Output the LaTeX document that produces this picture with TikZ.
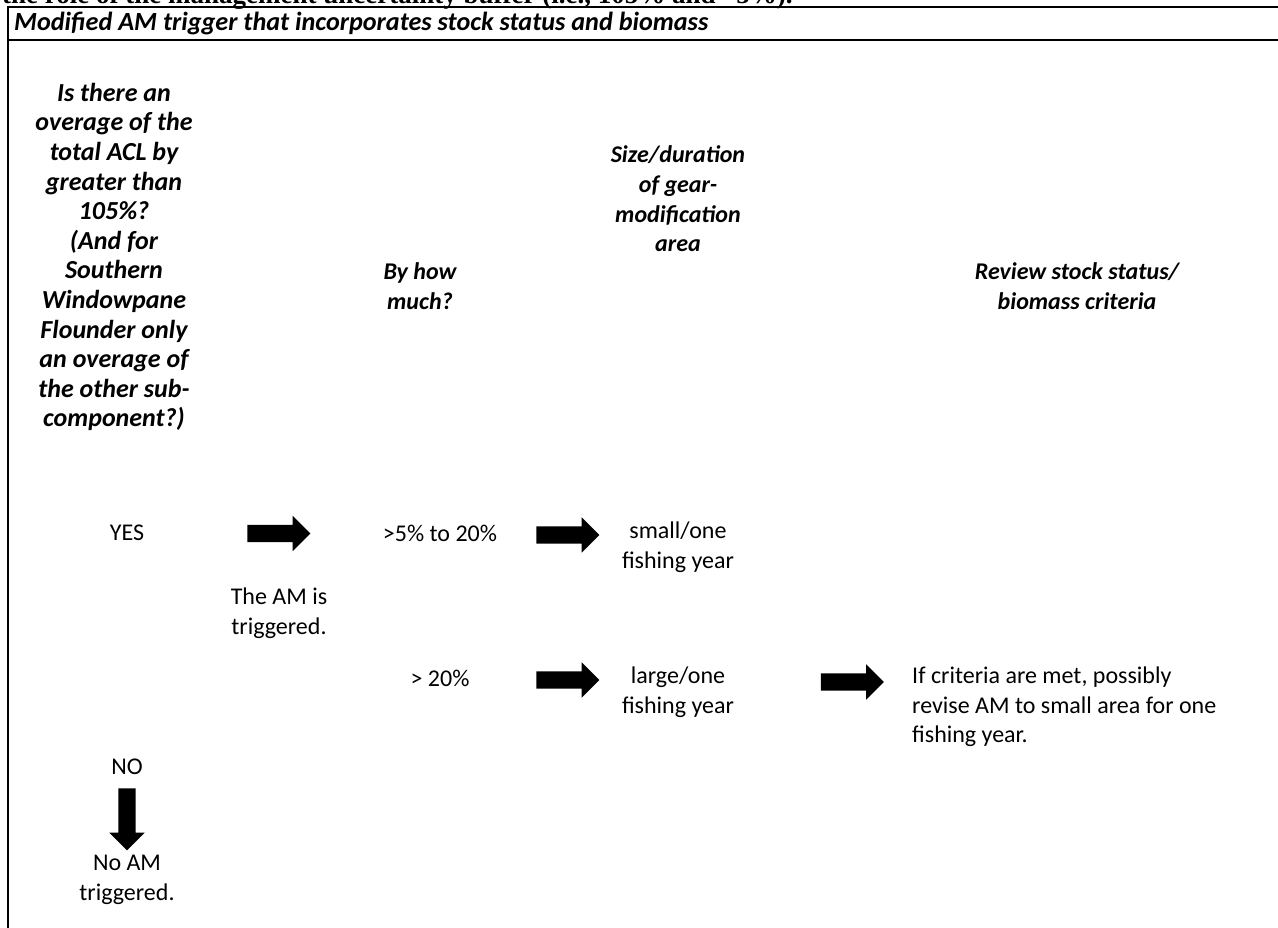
\documentclass[tikz,border=0pt]{standalone}
\usepackage{fontspec}
\setmainfont{Carlito}
\newfontfamily\timesfont{Liberation Serif}
\usetikzlibrary{shapes.arrows}
\begin{document}
\begin{tikzpicture}[x=1pt,y=-1pt,
  txt/.style={font=\fontsize{24}{29.5}\selectfont, align=center, inner sep=0pt},
  hdr/.style={font=\fontsize{24}{29.6}\selectfont\bfseries\itshape, align=center, inner sep=0pt},
  bighdr/.style={hdr, font=\fontsize{26}{29.6}\selectfont\bfseries\itshape},
  blockarrow/.style={single arrow, fill=black, draw=none, inner xsep=0pt, inner ysep=8.5pt,
    text height=0pt, text depth=0pt, text width=0pt, single arrow head extend=9pt,
    single arrow head indent=0pt, minimum height=63pt},
  downarrow/.style={blockarrow, shape border rotate=270, inner xsep=8.5pt, inner ysep=0pt},
  frameline/.style={line width=2pt}]
\useasboundingbox (0,0) rectangle (1278,928);
\clip (0,0) rectangle (1278,928);
% cut-off line of the surrounding document
\node[anchor=base west, inner sep=0pt, font=\fontsize{27}{30}\selectfont\timesfont\bfseries] (docline) at (2,3.5)
  {the role of the management uncertainty buffer (i.e., 105\% and \textasciitilde5\%).};
% table frame
\draw[frameline] (8,7) -- (1280,7);
\draw[frameline] (8,40) -- (1280,40);
\draw[frameline] (8,6) -- (8,930);
\node[anchor=base west, inner sep=0pt, font=\fontsize{26.2}{29.5}\selectfont\bfseries\itshape] (title) at (14,31)
  {Modified AM trigger that incorporates stock status and biomass};
% column headers
\node[bighdr] (q) at (114,257) {Is there an\\overage of the\\total ACL by\\greater than\\105\%?\\(And for\\Southern\\Windowpane\\Flounder only\\an overage of\\the other sub-\\component?)};
\node[hdr] (by) at (420,286) {By how\\much?};
\node[hdr] (size) at (678,199) {Size/duration\\of gear-\\modification\\area};
\node[hdr] (review) at (1077,286) {Review stock status/\\biomass criteria};
% rows
\node[txt] (yes) at (127,533) {YES};
\node[blockarrow] (a1) at (274.5,533.5) {};
\node[txt] (p1) at (440,533) {>5\% to 20\%};
\node[blockarrow] (a2) at (563.5,535) {};
\node[txt] (small) at (678,547) {small/one\\fishing year};
\node[txt] (trig) at (279,613) {The AM is\\triggered.};
\node[txt] (p2) at (440,678) {> 20\%};
\node[blockarrow] (a3) at (563.5,680) {};
\node[txt] (large) at (678,692) {large/one\\fishing year};
\node[blockarrow] (a4) at (848,682) {};
\node[txt, align=left, anchor=west] (crit) at (912,707) {If criteria are met, possibly\\revise AM to small area for one\\fishing year.};
\node[txt] (no) at (127,767) {NO};
\node[downarrow, minimum height=62pt] (a5) at (127,815) {};
\node[txt] (noam) at (127,880) {No AM\\triggered.};
\end{tikzpicture}
\end{document}
